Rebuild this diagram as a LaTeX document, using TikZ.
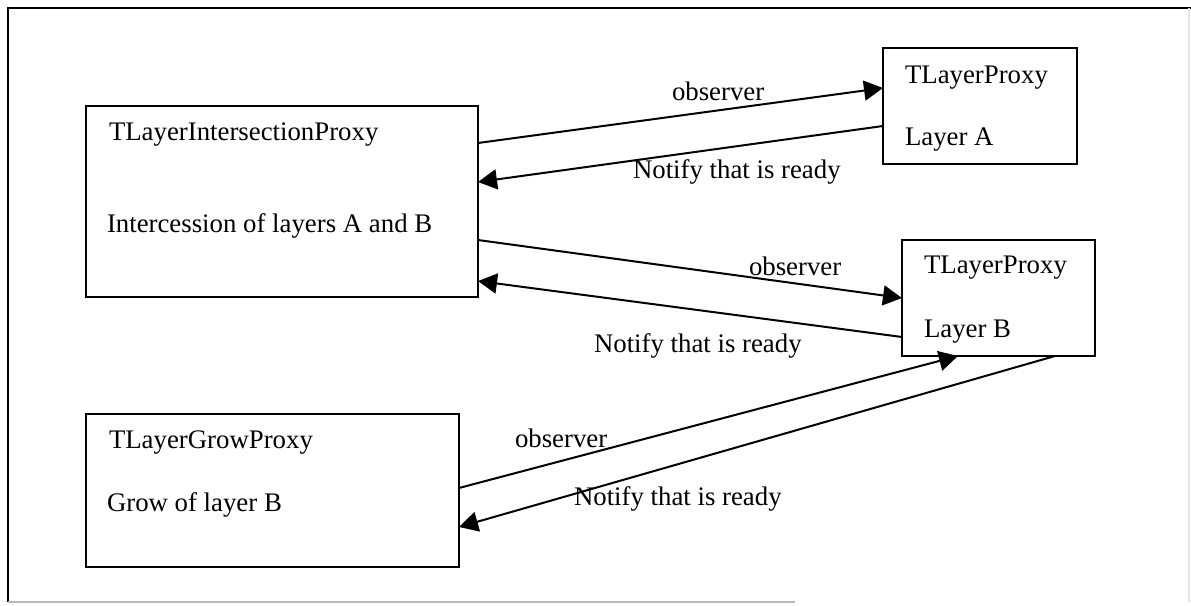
\documentclass[tikz,border=0pt]{standalone}
\usepackage{fontspec}
\setmainfont{Liberation Serif}
\usetikzlibrary{arrows.meta}
\begin{document}
\begin{tikzpicture}[x=0.5pt,y=-0.5pt,
  box/.style={draw,line width=1pt,inner sep=0pt,outer sep=0pt,anchor=north west},
  txt/.style={inner sep=0pt,outer sep=0pt,anchor=base west,font=\fontsize{13.4}{16}\selectfont},
  arr/.style={line width=1pt,-{Triangle[length=9.5pt,width=10pt]}}]
\useasboundingbox (0,0) rectangle (1191,606);
% frame
\draw[line width=1.2pt] (8,602) -- (8,8) -- (1191,8);
\draw[line width=1pt,gray!55] (8,602) -- (795,602);
\draw[line width=0.6pt,gray!20] (1189,8) -- (1189,602);
% boxes
\node[box,minimum width=196pt,minimum height=95.5pt] (b1) at (86,106) {};
\node[box,minimum width=97pt,minimum height=58pt] (bA) at (883,48) {};
\node[box,minimum width=96.5pt,minimum height=58pt] (bB) at (902,240) {};
\node[box,minimum width=186.5pt,minimum height=76.5pt] (b4) at (86,414) {};
% box texts
\node[txt] (t1a) at (109,140) {TLayerIntersectionProxy};
\node[txt] (t1b) at (107,232) {Intercession of layers A and B};
\node[txt] (tAa) at (905,83) {TLayerProxy};
\node[txt] (tAb) at (905,145) {Layer A};
\node[txt] (tBa) at (924,273) {TLayerProxy};
\node[txt] (tBb) at (924,337) {Layer B};
\node[txt] (t4a) at (109,448) {TLayerGrowProxy};
\node[txt] (t4b) at (107,511) {Grow of layer B};
% connectors
\draw[arr] ([yshift=-18.5pt]b1.north east) -- ([yshift=-20pt]bA.north west);
\draw[arr] ([yshift=-39pt]bA.north west) -- ([yshift=-38pt]b1.north east);
\draw[arr] ([yshift=-67pt]b1.north east) -- ([yshift=-29pt]bB.north west);
\draw[arr] ([yshift=-48.5pt]bB.north west) -- ([yshift=-87.5pt]b1.north east);
\draw[arr] ([yshift=-37pt]b4.north east) -- ([xshift=28pt]bB.south west);
\draw[arr] ([xshift=76.5pt]bB.south west) -- ([yshift=-56.5pt]b4.north east);
% connector labels
\node[txt] (l1) at (672,100) {observer};
\node[txt] (l2) at (633,178) {Notify that is ready};
\node[txt] (l3) at (749,275) {observer};
\node[txt] (l4) at (594,352) {Notify that is ready};
\node[txt] (l5) at (515,447) {observer};
\node[txt] (l6) at (574,505) {Notify that is ready};
\end{tikzpicture}
\end{document}
